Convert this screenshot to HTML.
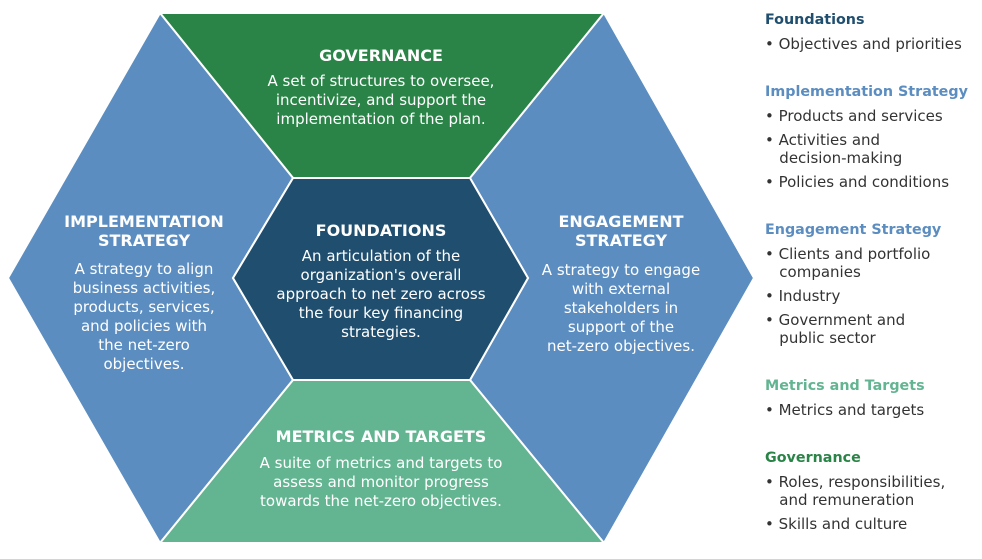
<!DOCTYPE html>
<html><head><meta charset="utf-8"><style>
body{margin:0;width:982px;height:559px;background:#fff;position:relative;font-family:"DejaVu Sans","Liberation Sans",sans-serif;overflow:hidden}
.i{position:absolute;left:765px;font-size:15px;color:#333;line-height:18px;white-space:nowrap}
.i.h{font-weight:bold;font-size:14.3px}
</style></head><body>
<svg width="982" height="559" style="position:absolute;left:0;top:0" font-family="DejaVu Sans, Liberation Sans, sans-serif">
<g stroke="#fff" stroke-width="2" stroke-linejoin="miter">
<polygon points="160,13 604,13 470,178 293,178" fill="#2a8447"/>
<polygon points="160,13 293,178 233,278 293,380 160,543 8,278" fill="#5b8dc0"/>
<polygon points="604,13 470,178 528,278 470,380 604,543 754,278" fill="#5b8dc0"/>
<polygon points="293,380 470,380 604,543 160,543" fill="#63b591"/>
<polygon points="233,278 293,178 470,178 528,278 470,380 293,380" fill="#1f4e6e"/>
</g>
<g fill="#fff" text-anchor="middle" font-size="15">
<text x="381" y="61" font-weight="bold" font-size="16">GOVERNANCE</text>
<text x="381" y="86">A set of structures to oversee,</text>
<text x="381" y="105">incentivize, and support the</text>
<text x="381" y="124">implementation of the plan.</text>
<text x="381" y="236" font-weight="bold" font-size="16">FOUNDATIONS</text>
<text x="381" y="261">An articulation of the</text>
<text x="381" y="280">organization's overall</text>
<text x="381" y="299">approach to net zero across</text>
<text x="381" y="318">the four key financing</text>
<text x="381" y="337">strategies.</text>
<text x="144" y="227" font-weight="bold" font-size="16">IMPLEMENTATION</text>
<text x="144" y="246" font-weight="bold" font-size="16">STRATEGY</text>
<text x="144" y="274">A strategy to align</text>
<text x="144" y="293">business activities,</text>
<text x="144" y="312">products, services,</text>
<text x="144" y="331">and policies with</text>
<text x="144" y="350">the net-zero</text>
<text x="144" y="369">objectives.</text>
<text x="621" y="227" font-weight="bold" font-size="16">ENGAGEMENT</text>
<text x="621" y="246" font-weight="bold" font-size="16">STRATEGY</text>
<text x="621" y="275">A strategy to engage</text>
<text x="621" y="294">with external</text>
<text x="621" y="313">stakeholders in</text>
<text x="621" y="332">support of the</text>
<text x="621" y="351">net-zero objectives.</text>
<text x="381" y="442" font-weight="bold" font-size="16">METRICS AND TARGETS</text>
<text x="381" y="468">A suite of metrics and targets to</text>
<text x="381" y="487">assess and monitor progress</text>
<text x="381" y="506">towards the net-zero objectives.</text>
</g>
</svg>
<div class="i h" style="top:11px;color:#1f4e6e">Foundations</div>
<div class="i" style="top:35px">• Objectives and priorities</div>
<div class="i h" style="top:83px;color:#5b8dc0">Implementation Strategy</div>
<div class="i" style="top:107px">• Products and services</div>
<div class="i" style="top:131px">• Activities and<br>&nbsp;&nbsp;&nbsp;decision-making</div>
<div class="i" style="top:173px">• Policies and conditions</div>
<div class="i h" style="top:221px;color:#5b8dc0">Engagement Strategy</div>
<div class="i" style="top:245px">• Clients and portfolio<br>&nbsp;&nbsp;&nbsp;companies</div>
<div class="i" style="top:287px">• Industry</div>
<div class="i" style="top:311px">• Government and<br>&nbsp;&nbsp;&nbsp;public sector</div>
<div class="i h" style="top:377px;color:#63b591">Metrics and Targets</div>
<div class="i" style="top:401px">• Metrics and targets</div>
<div class="i h" style="top:449px;color:#2a8447">Governance</div>
<div class="i" style="top:473px">• Roles, responsibilities,<br>&nbsp;&nbsp;&nbsp;and remuneration</div>
<div class="i" style="top:515px">• Skills and culture</div>
</body></html>
